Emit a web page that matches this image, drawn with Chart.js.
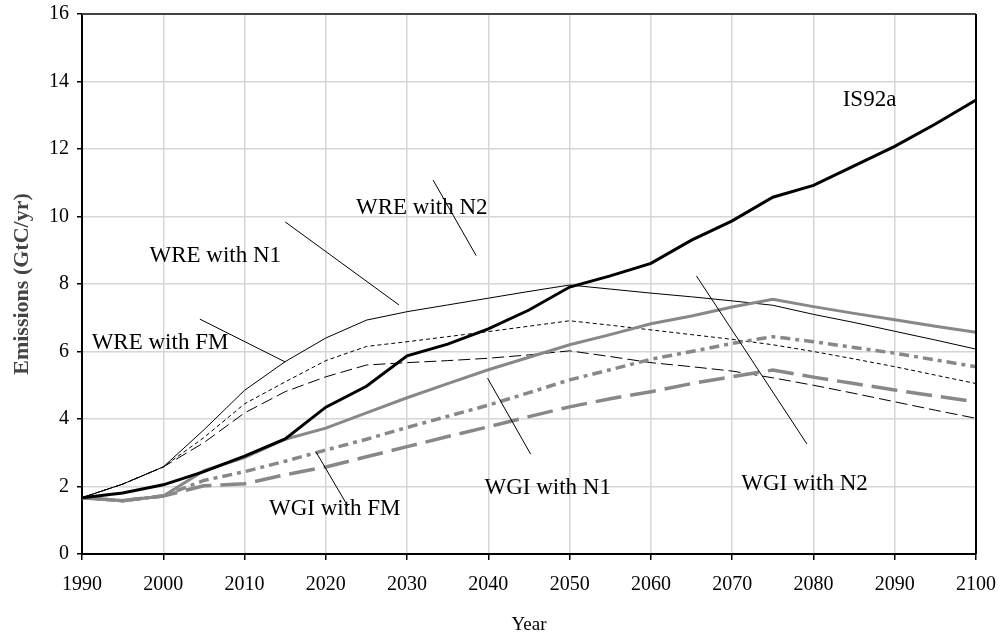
<!DOCTYPE html>
<html>
<head>
<meta charset="utf-8">
<script src="https://cdn.jsdelivr.net/npm/chart.js@4/dist/chart.umd.min.js"></script>
<style>
  html, body { margin: 0; padding: 0; background: #fff; }
  #wrap { width: 1004px; height: 641px; }
</style>
</head>
<body>
<div id="wrap"><canvas id="chart"></canvas></div>
<script>
// data
const years = [1990, 1995, 2000, 2005, 2010, 2015, 2020, 2025, 2030, 2035, 2040, 2045, 2050,
  2055, 2060, 2065, 2070, 2075, 2080, 2085, 2090, 2095, 2100];

const is92a = [1.67, 1.81, 2.05, 2.44, 2.9, 3.41, 4.35, 4.97, 5.87, 6.22, 6.67, 7.23, 7.91,
  8.24, 8.61, 9.3, 9.87, 10.57, 10.92, 11.5, 12.08, 12.74, 13.45];
const wreN1 = [1.67, 2.07, 2.58, 3.68, 4.85, 5.7, 6.4, 6.93, 7.18, 7.38, 7.58, 7.78, 7.97,
  7.85, 7.73, 7.62, 7.5, 7.37, 7.1, 6.86, 6.6, 6.34, 6.07];
const wreN2 = [1.67, 2.07, 2.58, 3.45, 4.45, 5.1, 5.73, 6.15, 6.29, 6.44, 6.59, 6.75, 6.91,
  6.78, 6.64, 6.5, 6.36, 6.2, 6.0, 5.78, 5.55, 5.3, 5.05];
const wreFM = [1.67, 2.07, 2.58, 3.3, 4.18, 4.81, 5.25, 5.6, 5.67, 5.73, 5.8, 5.9, 6.02,
  5.85, 5.67, 5.55, 5.42, 5.22, 5.0, 4.76, 4.51, 4.26, 4.02];
const wgiN1 = [1.67, 1.58, 1.72, 2.47, 2.86, 3.4, 3.73, 4.18, 4.63, 5.05, 5.46, 5.83, 6.2,
  6.5, 6.82, 7.05, 7.32, 7.55, 7.33, 7.13, 6.94, 6.75, 6.57];
const wgiN2 = [1.67, 1.58, 1.72, 2.18, 2.44, 2.75, 3.08, 3.4, 3.75, 4.08, 4.41, 4.78, 5.16,
  5.46, 5.77, 6.0, 6.24, 6.44, 6.29, 6.12, 5.95, 5.75, 5.55];
const wgiFM = [1.67, 1.58, 1.72, 2.02, 2.08, 2.35, 2.58, 2.88, 3.18, 3.48, 3.77, 4.07, 4.36,
  4.6, 4.81, 5.05, 5.25, 5.45, 5.24, 5.05, 4.86, 4.68, 4.51];

const yTicks = [0, 2, 4, 6, 8, 10, 12, 14, 16];

// curve labels: text, [year, value] of text centre, pointer from/to (or null)
const labelNames = ['IS92a', 'WRE with N2', 'WRE with N1', 'WRE with FM', 'WGI with FM', 'WGI with N1', 'WGI with N2'];
const labelAt = [[2086.9, 13.45], [2031.8, 10.25], [2006.4, 8.83], [1999.6, 6.25], [2021.1, 1.33], [2047.3, 1.96], [2078.9, 2.07]];
const pointerFrom = [null, [2033.2, 11.08], [2015.0, 9.84], [2004.5, 6.96], [2018.8, 3.02], [2039.9, 5.21], [2065.6, 8.24]];
const pointerTo = [null, [2038.5, 8.84], [2029.0, 7.38], [2015.0, 5.69], [2022.7, 1.42], [2045.2, 2.96], [2079.2, 3.26]];

const FONT = "'Liberation Serif', 'Times New Roman', serif";
const GRAY = '#888888';

function pts(vals) {
  return vals.map((v, i) => ({ x: years[i], y: v }));
}

function line(label, vals, color, width, dash) {
  return {
    label: label,
    data: pts(vals),
    borderColor: color,
    borderWidth: width,
    borderDash: dash,
    pointRadius: 0,
    tension: 0,
    fill: false,
  };
}

const curveLabels = {
  id: 'curveLabels',
  afterDatasetsDraw(chart) {
    const { ctx, scales: { x, y }, chartArea } = chart;
    ctx.save();
    // frame: top and right edge
    ctx.lineWidth = 2;
    ctx.strokeStyle = '#444';
    ctx.beginPath();
    ctx.moveTo(chartArea.left, chartArea.top);
    ctx.lineTo(chartArea.right, chartArea.top);
    ctx.stroke();
    ctx.strokeStyle = '#000';
    ctx.beginPath();
    ctx.moveTo(chartArea.right, chartArea.top);
    ctx.lineTo(chartArea.right, chartArea.bottom);
    ctx.stroke();

    ctx.lineWidth = 1;
    ctx.strokeStyle = '#000';
    pointerFrom.forEach((p, i) => {
      if (!p) return;
      const q = pointerTo[i];
      ctx.beginPath();
      ctx.moveTo(x.getPixelForValue(p[0]), y.getPixelForValue(p[1]));
      ctx.lineTo(x.getPixelForValue(q[0]), y.getPixelForValue(q[1]));
      ctx.stroke();
    });
    ctx.fillStyle = '#000';
    ctx.font = '23px ' + FONT;
    ctx.textAlign = 'center';
    ctx.textBaseline = 'middle';
    labelNames.forEach((t, i) => {
      ctx.fillText(t, x.getPixelForValue(labelAt[i][0]), y.getPixelForValue(labelAt[i][1]));
    });
    ctx.restore();
  }
};

new Chart(document.getElementById('chart'), {
  type: 'line',
  data: {
    datasets: [
      line('IS92a', is92a, '#000', 3, []),
      line('WGI with N1', wgiN1, GRAY, 3, []),
      line('WGI with N2', wgiN2, GRAY, 3.5, [10, 5, 4, 5]),
      line('WGI with FM', wgiFM, GRAY, 3.5, [26, 9]),
      line('WRE with N1', wreN1, '#000', 1, []),
      line('WRE with N2', wreN2, '#000', 1, [4, 3]),
      line('WRE with FM', wreFM, '#000', 1, [12, 5]),
    ],
  },
  options: {
    responsive: true,
    maintainAspectRatio: false,
    animation: false,
    layout: { padding: { left: 0, right: 28, top: 14, bottom: 0 } },
    plugins: {
      legend: { display: false },
      tooltip: { enabled: false },
    },
    scales: {
      x: {
        type: 'linear',
        min: 1990,
        max: 2100,
        afterFit: (s) => { s.height = 87; s.paddingLeft = 0; s.paddingRight = 0; },
        ticks: { stepSize: 10, color: '#000', font: { family: FONT, size: 20 }, padding: 13,
          callback: (v) => String(v) },
        grid: { color: '#d6d6d6', lineWidth: 1.5, tickColor: '#000', tickLength: 6 },
        border: { color: '#000', width: 2 },
        title: { display: true, text: 'Year', color: '#000', font: { family: FONT, size: 19 },
          padding: { top: 0, bottom: 5 } },
      },
      y: {
        min: 0,
        max: 16,
        afterFit: (s) => { s.width = 82; s.paddingTop = 0; s.paddingBottom = 0; },
        afterBuildTicks: (s) => { s.ticks = yTicks.map((v) => ({ value: v })); },
        ticks: { color: '#000', font: { family: FONT, size: 20 }, padding: 8 },
        grid: { color: '#d6d6d6', lineWidth: 1.5, tickColor: '#000', tickLength: 5 },
        border: { color: '#000', width: 2 },
        title: { display: true, text: 'Emissions (GtC/yr)', color: '#444',
          font: { family: FONT, size: 22, weight: 'bold' }, padding: { top: 9, bottom: 0 } },
      },
    },
  },
  plugins: [curveLabels],
});
</script>
</body>
</html>
